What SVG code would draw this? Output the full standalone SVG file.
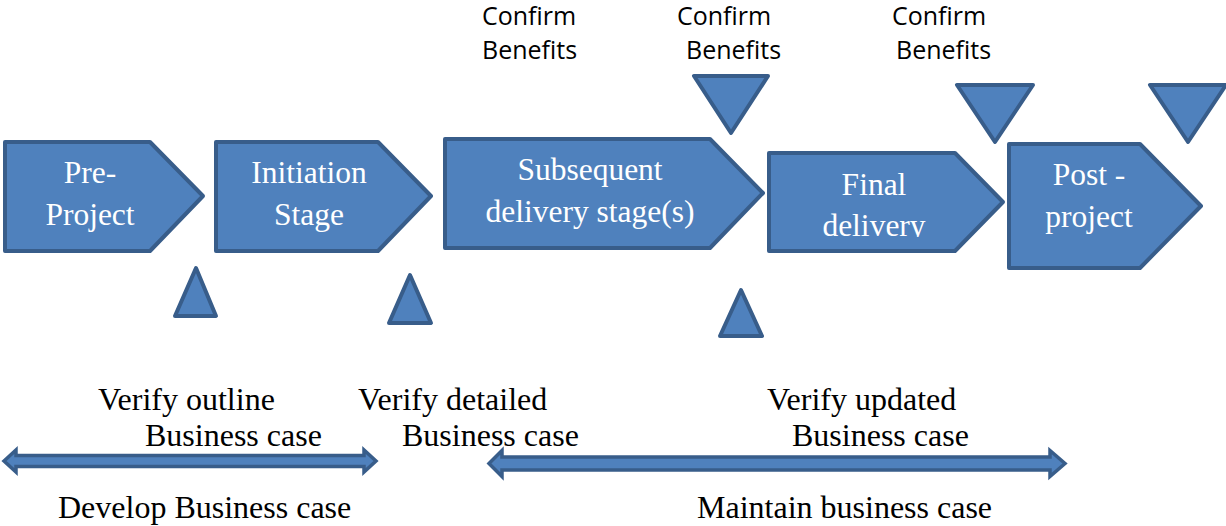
<svg xmlns="http://www.w3.org/2000/svg" width="1226" height="526" viewBox="0 0 1226 526">
  <style>
    .shape { fill: #4F81BD; stroke: #385D8A; stroke-width: 4; stroke-linejoin: round; }
    .span { fill: #4F81BD; stroke: #385D8A; stroke-width: 3.5; stroke-linejoin: miter; }
    .inbox { font-family: "Liberation Serif", "Times New Roman", serif; font-size: 31.5px; fill: #FFFFFF; text-anchor: middle; }
    .label { font-family: "Liberation Serif", "Times New Roman", serif; font-size: 32px; fill: #000000; }
    .note { font-family: "Open Sans", "Liberation Sans", sans-serif; font-size: 25px; fill: #000000; }
  </style>
  <defs>
    <clipPath id="final-clip">
      <rect x="769" y="153" width="236" height="84"/>
    </clipPath>
  </defs>
  <rect width="1226" height="526" fill="#FFFFFF"/>

  <!-- stage chevrons -->
  <g id="pre-project">
    <path class="shape" d="M5,142 H150 L203,196 L150,251 H5 Z"/>
    <text class="inbox" x="90" y="183">Pre-</text>
    <text class="inbox" x="90" y="225">Project</text>
  </g>
  <g id="initiation-stage">
    <path class="shape" d="M216,142 H378 L431,196 L378,251 H216 Z"/>
    <text class="inbox" x="309" y="183">Initiation</text>
    <text class="inbox" x="309" y="225">Stage</text>
  </g>
  <g id="subsequent-delivery">
    <path class="shape" d="M445,139 H710 L763,193 L710,248 H445 Z"/>
    <text class="inbox" x="590" y="180">Subsequent</text>
    <text class="inbox" x="590" y="222">delivery stage(s)</text>
  </g>
  <g id="final-delivery">
    <path class="shape" d="M769,153 H955 L1003,202 L955,251 H769 Z"/>
    <text class="inbox" x="874" y="195">Final</text>
    <text class="inbox" x="874" y="236" clip-path="url(#final-clip)">delivery</text>
  </g>
  <g id="post-project">
    <path class="shape" d="M1009,144 H1140 L1201,206 L1140,268 H1009 Z"/>
    <text class="inbox" x="1089" y="185">Post -</text>
    <text class="inbox" x="1089" y="227">project</text>
  </g>

  <!-- business case checkpoints (upward markers) -->
  <g id="verify-outline-marker">
    <path class="shape" d="M196,268 L216,316 L175,316 Z"/>
  </g>
  <g id="verify-detailed-marker">
    <path class="shape" d="M410,275 L431,323 L389,323 Z"/>
  </g>
  <g id="verify-updated-marker">
    <path class="shape" d="M741,290 L762,336 L720,336 Z"/>
  </g>

  <!-- benefit reviews (downward markers) -->
  <g id="benefits-marker-1">
    <path class="shape" d="M694,76 H768 L731,133 Z"/>
  </g>
  <g id="benefits-marker-2">
    <path class="shape" d="M957,85 H1033 L995,142 Z"/>
  </g>
  <g id="benefits-marker-3">
    <path class="shape" d="M1150,85 H1226 L1188,142 Z"/>
  </g>

  <!-- benefit review labels -->
  <g id="confirm-benefits-1">
    <text class="note" x="482" y="25">Confirm</text>
    <text class="note" x="482" y="59">Benefits</text>
  </g>
  <g id="confirm-benefits-2">
    <text class="note" x="677" y="25">Confirm</text>
    <text class="note" x="686" y="59">Benefits</text>
  </g>
  <g id="confirm-benefits-3">
    <text class="note" x="892" y="25">Confirm</text>
    <text class="note" x="896" y="59">Benefits</text>
  </g>

  <!-- checkpoint labels -->
  <g id="verify-outline">
    <text class="label" x="98" y="410">Verify outline</text>
    <text class="label" x="145" y="446">Business case</text>
  </g>
  <g id="verify-detailed">
    <text class="label" x="358" y="410">Verify detailed</text>
    <text class="label" x="402" y="446">Business case</text>
  </g>
  <g id="verify-updated">
    <text class="label" x="767" y="410">Verify updated</text>
    <text class="label" x="792" y="446">Business case</text>
  </g>

  <!-- duration spans -->
  <g id="connectors">
    <path class="span" d="M4,461 L16,450 V455.5 H364 V450 L376,461 L364,472 V466.5 H16 V472 Z"/>
    <path class="span" d="M489,463.5 L502,450.5 V457 H1050 V450.5 L1065,463.5 L1050,476.5 V470 H502 V476.5 Z"/>
  </g>
  <g id="develop-span-label">
    <text class="label" x="58" y="518">Develop Business case</text>
  </g>
  <g id="maintain-span-label">
    <text class="label" x="697" y="518">Maintain business case</text>
  </g>
</svg>
